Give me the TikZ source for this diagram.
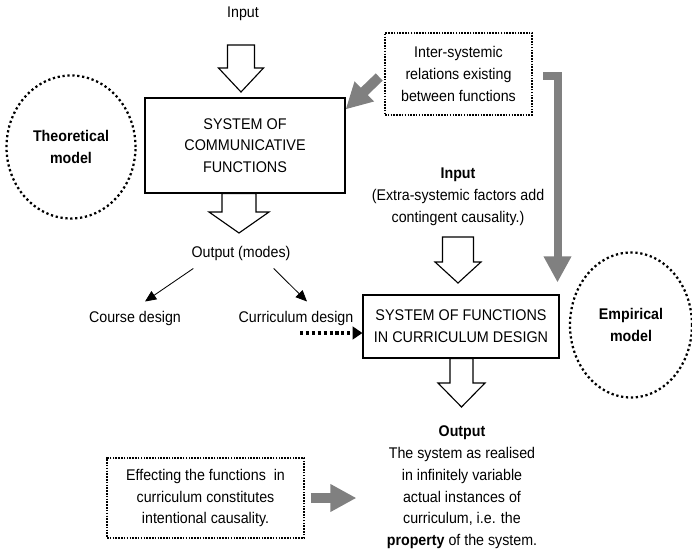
\documentclass[tikz,border=0pt]{standalone}
\usepackage{fontspec}
\setmainfont{Liberation Sans}[FakeStretch=0.92]
\newfontfamily\boxfont{Liberation Sans}[FakeStretch=0.93]
\usepackage{tikz}
\usetikzlibrary{shapes.geometric,arrows.meta,positioning,calc}

\def\pxu{0.025cm}
\colorlet{arrowgrey}{black!50}

% hollow down arrow: #1 top, #2 tip, #3 half shaft, #4 half head, #5 head length
\newcommand\hollowdown[5]{%
  \draw[hollowarr] let \p1=(#1), \p2=(#2) in
    (\x1-#3*\pxu,\y1) -- (\x1+#3*\pxu,\y1) -- (\x1+#3*\pxu,\y2+#5*\pxu)
    -- (\x1+#4*\pxu,\y2+#5*\pxu) -- (\x1,\y2) -- (\x1-#4*\pxu,\y2+#5*\pxu)
    -- (\x1-#3*\pxu,\y2+#5*\pxu) -- cycle;}

\begin{document}
\begin{tikzpicture}[
    x=0.025cm, y=-0.025cm,
    every node/.style={font=\fontsize{11}{15.5}\selectfont, align=center, inner sep=0pt},
    sysbox/.style={draw, line width=0.8pt, minimum width=#1*\pxu,
      font=\fontsize{11}{15.5}\selectfont\boxfont},
    notebox/.style={draw, line width=1.1pt, dash pattern=on 1.1pt off 0.9pt},
    model/.style={ellipse, draw, line width=1.6pt, dash pattern=on 1.6pt off 1.9pt,
      font=\fontsize{11}{15.5}\selectfont\bfseries},
    hollowarr/.style={draw, line width=0.8pt, fill=white},
    thinarr/.style={line width=0.6pt, -{Triangle[length=8pt,width=7pt]}},
    dotarr/.style={line width=2.2pt, dash pattern=on 2.2pt off 2pt,
      -{Triangle[length=7pt,width=9pt]}},
    greyarr/.style={draw=arrowgrey, line width=#1*\pxu,
      -{Triangle[length=0.65cm,width=0.65cm]}, color=arrowgrey}
  ]
  \useasboundingbox (0,0) rectangle (692,552);

  % theoretical side
  \node (input) at (243,14) {Input};
  \node[sysbox=200, minimum height=95*\pxu] (comm) at (245,145.5)
    {SYSTEM OF\\COMMUNICATIVE\\FUNCTIONS};
  \node[model, minimum width=129*\pxu, minimum height=143*\pxu] (theo) at (71,147)
    {Theoretical\\model};
  \node (modes) at (241,253) {Output (modes)};
  \node (course) at (135,318) {Course design};
  \node (curric) at (296,318) {Curriculum design};

  \coordinate (a1s) at (241,45);
  \coordinate (a1e) at (241,92);
  \coordinate (a2e) at (239,233);
  \hollowdown{a1s}{a1e}{13.5}{22.5}{24}
  \hollowdown{comm.south -| a2e}{a2e}{17}{30}{21}

  \draw[thinarr] ([xshift=2*\pxu,yshift=-8*\pxu]modes.south west)
    -- ([xshift=10*\pxu,yshift=9*\pxu]course.north);
  \draw[thinarr] ([xshift=-17*\pxu,yshift=-8*\pxu]modes.south east)
    -- ([xshift=11*\pxu,yshift=9*\pxu]curric.north);

  % empirical side
  \node[notebox, minimum width=147*\pxu, minimum height=82*\pxu] (intersys) at (458.5,74)
    {Inter-systemic\\relations existing\\between functions};
  \node (extra) at (458,197)
    {\textbf{Input}\\(Extra-systemic factors add\\contingent causality.)};
  \node[sysbox=196, minimum height=63*\pxu] (fcd) at (461,326.5)
    {SYSTEM OF FUNCTIONS\\IN CURRICULUM DESIGN};
  \node[model, minimum width=122*\pxu, minimum height=145*\pxu] (emp) at (631,325)
    {Empirical\\model};
  \node (output) at (462,487.5)
    {\textbf{Output}\\The system as realised\\in infinitely variable\\actual instances of\\curriculum, i.e. the\\\textbf{property} of the system.};
  \node[notebox, minimum width=197*\pxu, minimum height=80*\pxu] (effect) at (205.5,498)
    {Effecting the functions\ \ in\\curriculum constitutes\\intentional causality.};

  \coordinate (a3s) at (458,237);
  \coordinate (a3e) at (458,283);
  \coordinate (a4e) at (461.5,407);
  \hollowdown{a3s}{a3e}{15.5}{23}{21}
  \hollowdown{fcd.south -| a4e}{a4e}{11.5}{23.5}{24}

  \coordinate (dots) at (300,333);
  \draw[dotarr] (dots) -- (fcd.west |- dots);

  % grey arrows
  \draw[greyarr=10] ([xshift=-5*\pxu,yshift=-3*\pxu]intersys.west)
    -- ([xshift=0*\pxu,yshift=-12*\pxu]comm.north east);
  \coordinate (bend) at (557.5,76);
  \draw[greyarr=8] (543,76) -- (bend) -- ([yshift=12*\pxu]fcd.north east -| bend);
  \draw[greyarr=10] ([xshift=6*\pxu]effect.east) -- ([xshift=-6*\pxu]effect.east -| fcd.west);
\end{tikzpicture}
\end{document}
